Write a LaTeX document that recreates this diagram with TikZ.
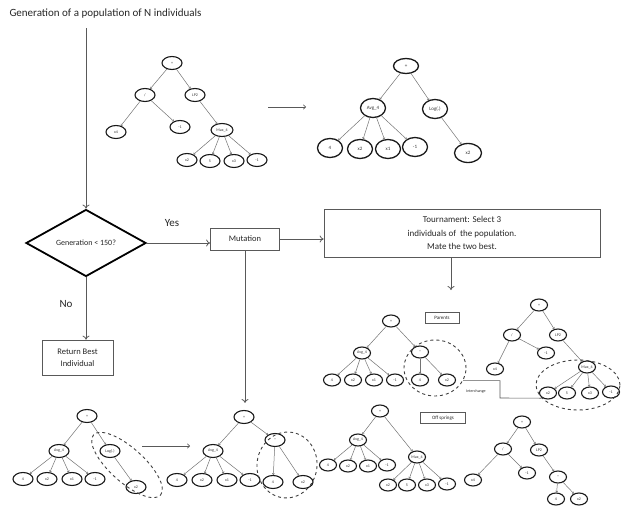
\documentclass[tikz,border=0pt]{standalone}
\usepackage{fontspec}
\setmainfont{Carlito}
\usetikzlibrary{shapes.geometric,arrows.meta}
\begin{document}
\begin{tikzpicture}[x=1pt,y=-1pt,
 tn/.style={ellipse,draw=black!90,line width=1.1pt,minimum width=20pt,minimum height=13pt,inner sep=0pt,font=\fontsize{4}{4}\selectfont,text=black!80},
 tb/.style={tn,minimum width=25pt,minimum height=19pt,line width=1.3pt,font=\fontsize{5}{5}\selectfont},
 ts/.style={tn,minimum width=17pt,minimum height=12pt},
 ed/.style={draw=black!55,line width=0.5pt,-{To[length=1.8pt,width=2.6pt]}},
 box/.style={draw=black!65,line width=0.7pt,inner sep=0pt,font=\fontsize{8.5}{12}\selectfont,text=black!85,align=center},
 ln/.style={draw=black!65,line width=0.8pt},
 arr/.style={ln,-{To[length=4pt,width=7pt]}},
 dsh/.style={ellipse,draw=black!75,dashed,line width=0.9pt,inner sep=0pt},
 lbl/.style={font=\fontsize{11}{12}\selectfont,text=black!85},
 tag/.style={draw=black!65,line width=0.6pt,inner sep=0pt,font=\fontsize{5}{5}\selectfont,text=black!85},
]
\useasboundingbox (0,0) rectangle (621,506);

% ---------- flowchart ----------
\node[lbl,anchor=west] (title) at (6,14) {Generation of a population of N individuals};
\node[diamond,aspect=1.8,draw=black,line width=1.8pt,minimum width=120pt,minimum height=67pt,inner sep=0pt,font=\fontsize{8}{9}\selectfont,text=black!85] (dia) at (86,243) {Generation < 150?};
\coordinate (st) at (86,28);
\draw[arr] (st) -- (dia.north);
\node[lbl] (yes) at (172,223) {Yes};
\node[lbl] (no) at (66,304) {No};
\node[box,minimum width=69pt,minimum height=22pt] (mut) at (245,239) {Mutation};
\node[box,minimum width=276pt,minimum height=48pt,font=\fontsize{9}{13.5}\selectfont] (tour) at (462,233) {Tournament: Select 3\\individuals of \ the population.\\Mate the two best.};
\node[box,minimum width=71pt,minimum height=35pt] (ret) at (77.5,357.5) {Return Best\\Individual};
\draw[arr] (dia.east) -- (dia.east -| mut.west);
\draw[arr] (mut.east) -- (mut.east -| tour.west);
\coordinate (tarr) at (451,290);
\draw[arr] (tour.south -| tarr) -- (tarr);
\draw[arr] (dia.south) -- (dia.south |- ret.north);

% ---------- tree 1 ----------
\node[tn] (a0) at (172,63) {+};
\node[tn] (a1) at (145,95) {/};
\node[tn] (a2) at (195,95) {LP2};
\node[tn] (a3) at (116,132) {x4};
\node[tn] (a4) at (180,127) {-1};
\node[tn,minimum width=22pt] (a5) at (222,130) {Max\_4};
\node[tn] (a6) at (187,160) {x2};
\node[tn] (a7) at (210,161) {5};
\node[tn] (a8) at (234,161) {x3};
\node[tn] (a9) at (257,160) {-1};
\foreach \p/\c in {a0/a1,a0/a2,a1/a3,a1/a4,a2/a5,a5/a6,a5/a7,a5/a8,a5/a9} \draw[ed] (\p) -- (\c);
\coordinate (m1) at (268,107);
\coordinate (m2) at (306,107);
\draw[ln,line width=0.6pt,-{To[length=3pt,width=5pt]}] (m1) -- (m2);

% ---------- tree 2 ----------
\node[tb,minimum height=15pt] (b0) at (406,66) {+};
\node[tb] (b1) at (373,108) {Avg\_4};
\node[tb] (b2) at (435,109) {Log(.)};
\node[tb] (b3) at (330,148) {4};
\node[tb] (b4) at (360,149) {x2};
\node[tb] (b5) at (388,149) {x1};
\node[tb] (b6) at (415,147) {-1};
\node[tb,minimum width=27pt] (b7) at (468,153) {x2};
\foreach \p/\c in {b0/b1,b0/b2,b1/b3,b1/b4,b1/b5,b1/b6,b2/b7} \draw[ed] (\p) -- (\c);

% ---------- tree 3 (parent) ----------
\node[tag,minimum width=34pt,minimum height=11pt] (par) at (442,318) {Parents};
\node[ts] (c0) at (391,321) {+};
\node[ts] (c1) at (362,353) {Avg\_4};
\node[ts] (c2) at (420,352) {*};
\node[ts] (c3) at (332,380) {4};
\node[ts] (c4) at (353,380) {x2};
\node[ts] (c5) at (374,380) {x1};
\node[ts] (c6) at (395,380) {-1};
\node[ts] (c7) at (420,380) {4};
\node[ts] (c8) at (447,380) {x2};
\foreach \p/\c in {c0/c1,c0/c2,c1/c3,c1/c4,c1/c5,c1/c6,c2/c7,c2/c8} \draw[ed] (\p) -- (\c);
\node[dsh,minimum width=62pt,minimum height=56pt] (e3) at (435,368) {};

% ---------- tree 4 (parent) ----------
\node[ts] (d0) at (539,305) {+};
\node[ts] (d1) at (512,335) {/};
\node[ts] (d2) at (558,335) {LP2};
\node[ts] (d3) at (495,369) {x4};
\node[ts] (d4) at (546,353) {-1};
\node[ts] (d5) at (587,367) {Max\_4};
\node[ts] (d6) at (548,393) {x2};
\node[ts] (d7) at (567,393) {5};
\node[ts] (d8) at (590,393) {x3};
\node[ts] (d9) at (611,392) {-1};
\foreach \p/\c in {d0/d1,d0/d2,d1/d3,d1/d4,d2/d5,d5/d6,d5/d7,d5/d8,d5/d9} \draw[ed] (\p) -- (\c);
\node[dsh,minimum width=84pt,minimum height=50pt] (e4) at (578,385) {};

% interchange
\coordinate (icm) at (500,398);
\draw[ln,line width=0.6pt] (e3.-24) -| (icm) -- (e4.-160);
\node[font=\fontsize{4}{4}\selectfont,text=black!85] (icl) at (476,391) {Interchange};

% ---------- tree 5 (offspring) ----------
\node[tag,minimum width=45pt,minimum height=11pt] (off) at (443,418) {Off springs};
\node[ts] (f0) at (380,411) {+};
\node[ts] (f1) at (358,440) {Avg\_4};
\node[ts] (f2) at (417,457) {Max\_4};
\node[ts] (f3) at (328,465) {4};
\node[ts] (f4) at (348,466) {x2};
\node[ts] (f5) at (368,466) {x1};
\node[ts] (f6) at (387,465) {-1};
\node[ts] (f7) at (388,485) {x2};
\node[ts] (f8) at (407,485) {5};
\node[ts] (f9) at (427,485) {x3};
\node[ts] (f10) at (447,484) {-1};
\foreach \p/\c in {f0/f1,f0/f2,f1/f3,f1/f4,f1/f5,f1/f6,f2/f7,f2/f8,f2/f9,f2/f10} \draw[ed] (\p) -- (\c);

% ---------- tree 6 (offspring) ----------
\node[ts] (g0) at (522,422) {+};
\node[ts] (g1) at (503,449) {/};
\node[ts] (g2) at (539,450) {LP2};
\node[ts] (g3) at (473,480) {x4};
\node[ts] (g4) at (527,473) {-1};
\node[ts] (g5) at (558,477) {*};
\node[ts] (g6) at (556,499) {4};
\node[ts] (g7) at (579,499) {x2};
\foreach \p/\c in {g0/g1,g0/g2,g1/g3,g1/g4,g2/g5,g5/g6,g5/g7} \draw[ed] (\p) -- (\c);

% ---------- tree 7 (before mutation) ----------
\node[tn] (h0) at (87,416) {+};
\node[tn] (h1) at (59,451) {Avg\_4};
\node[tn] (h2) at (110,451) {Log(.)};
\node[tn] (h3) at (23,479) {4};
\node[tn] (h4) at (47,479) {x2};
\node[tn] (h5) at (72,479) {x1};
\node[tn] (h6) at (95,479) {-1};
\node[tn] (h7) at (136,487) {x2};
\foreach \p/\c in {h0/h1,h0/h2,h1/h3,h1/h4,h1/h5,h1/h6,h2/h7} \draw[ed] (\p) -- (\c);
\node[dsh,rotate=-42,minimum width=90pt,minimum height=34pt] (e7) at (127,465) {};
\coordinate (n1) at (142,446);
\coordinate (n2) at (190,446);
\draw[ln,line width=0.6pt,-{To[length=3pt,width=5pt]}] (n1) -- (n2);

% ---------- tree 8 (after mutation) ----------
\node[tn] (i0) at (244,417) {+};
\node[tn] (i1) at (213,451) {Avg\_4};
\node[tn] (i2) at (275,440) {*};
\node[tn] (i3) at (177,480) {4};
\node[tn] (i4) at (202,480) {x2};
\node[tn] (i5) at (227,480) {x1};
\node[tn] (i6) at (250,480) {-1};
\node[tn] (i7) at (273,482) {4};
\node[tn] (i8) at (303,482) {x2};
\foreach \p/\c in {i0/i1,i0/i2,i1/i3,i1/i4,i1/i5,i1/i6,i2/i7,i2/i8} \draw[ed] (\p) -- (\c);
\node[dsh,rotate=-8,minimum width=60pt,minimum height=66pt] (e8) at (287,465) {};
\draw[arr,shorten >=7pt] (mut.south) -- (mut.south |- i0.north);
\end{tikzpicture}
\end{document}
